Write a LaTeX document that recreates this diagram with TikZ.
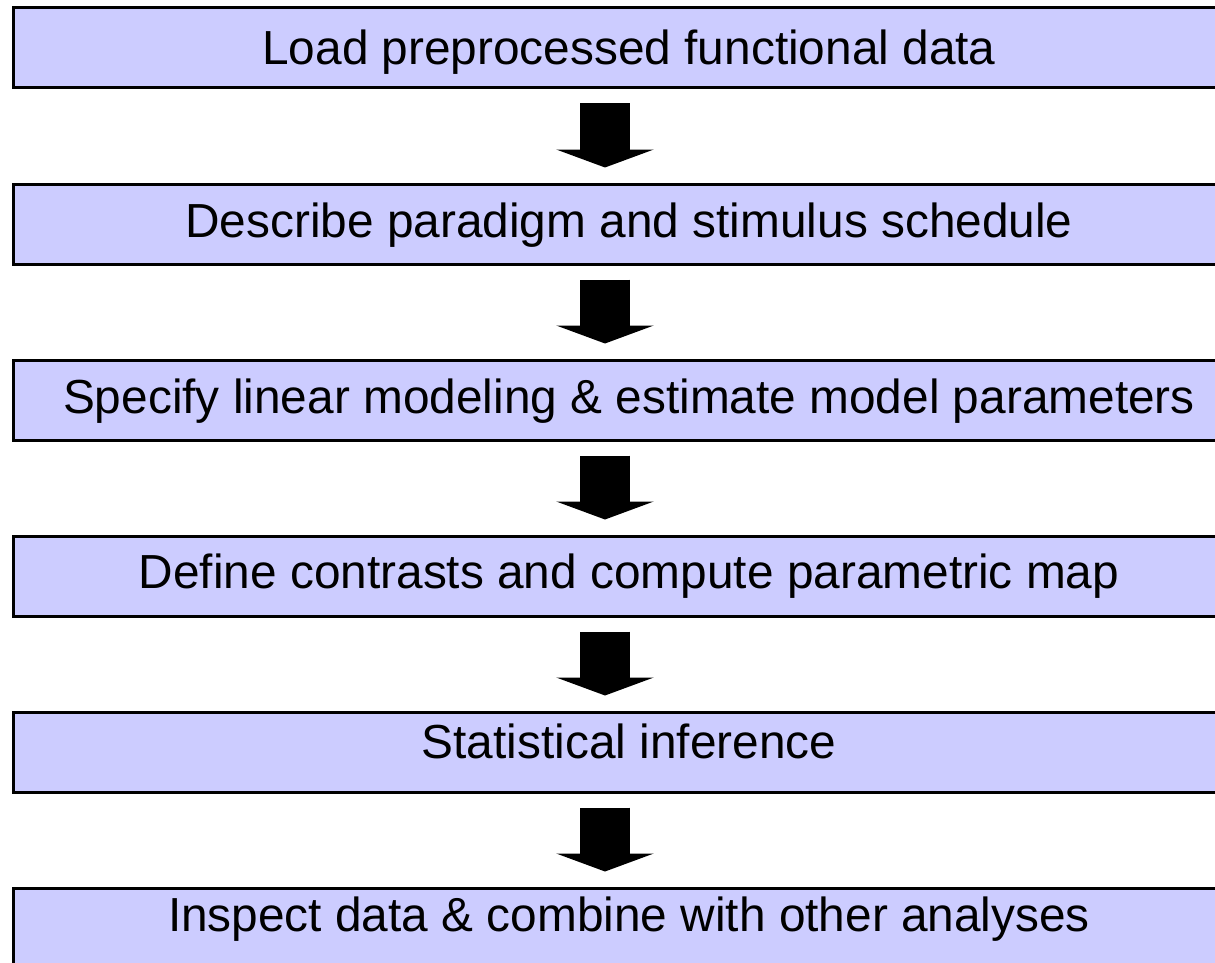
\documentclass[tikz,border=0pt]{standalone}
\usepackage{fontspec}
\setmainfont{Liberation Sans}
\usetikzlibrary{arrows.meta}
\definecolor{boxfill}{RGB}{204,204,255}
\tikzset{stepbox/.style={
    draw, line width=1.5pt, fill=boxfill,
    minimum width=616pt, minimum height=40pt, inner sep=0pt,
    text height=17.4pt, text depth=5pt,
    font=\fontsize{23.9}{28}\selectfont
  },
  blockarrow/.style={
    line width=25pt, -{Triangle[length=9pt,width=48.5pt]}
  }
}

\begin{document}
\begin{tikzpicture}[x=0.5pt,y=-0.5pt]
      \useasboundingbox (0,0) rectangle (1215,963);
      \clip (0,0) rectangle (1215,963);
      \node[stepbox] (load) at (629,48) {\raisebox{-2.3pt}{Load preprocessed functional data}};
      \node[stepbox] (describe) at (629,224) {\raisebox{-0.3pt}{Describe paradigm and stimulus schedule}};
      \node[stepbox] (specify) at (629,400) {\raisebox{-0.3pt}{Specify linear modeling \& estimate model parameters}};
      \node[stepbox] (contrasts) at (629,576) {Define contrasts and compute parametric map};
      \node[stepbox] (inference) at (629,752) {\raisebox{3.2pt}{Statistical inference}};
      \node[stepbox] (inspect) at (629,928) {\raisebox{4.7pt}{Inspect data \& combine with other analyses}};
      \draw[blockarrow] ([xshift=-12pt,yshift=-7pt]load.south) -- ([xshift=-12pt,yshift=7.5pt]describe.north);
      \draw[blockarrow] ([xshift=-12pt,yshift=-7pt]describe.south) -- ([xshift=-12pt,yshift=7.5pt]specify.north);
      \draw[blockarrow] ([xshift=-12pt,yshift=-7pt]specify.south) -- ([xshift=-12pt,yshift=7.5pt]contrasts.north);
      \draw[blockarrow] ([xshift=-12pt,yshift=-7pt]contrasts.south) -- ([xshift=-12pt,yshift=7.5pt]inference.north);
      \draw[blockarrow] ([xshift=-12pt,yshift=-7pt]inference.south) -- ([xshift=-12pt,yshift=7.5pt]inspect.north);
    \end{tikzpicture}
\end{document}
